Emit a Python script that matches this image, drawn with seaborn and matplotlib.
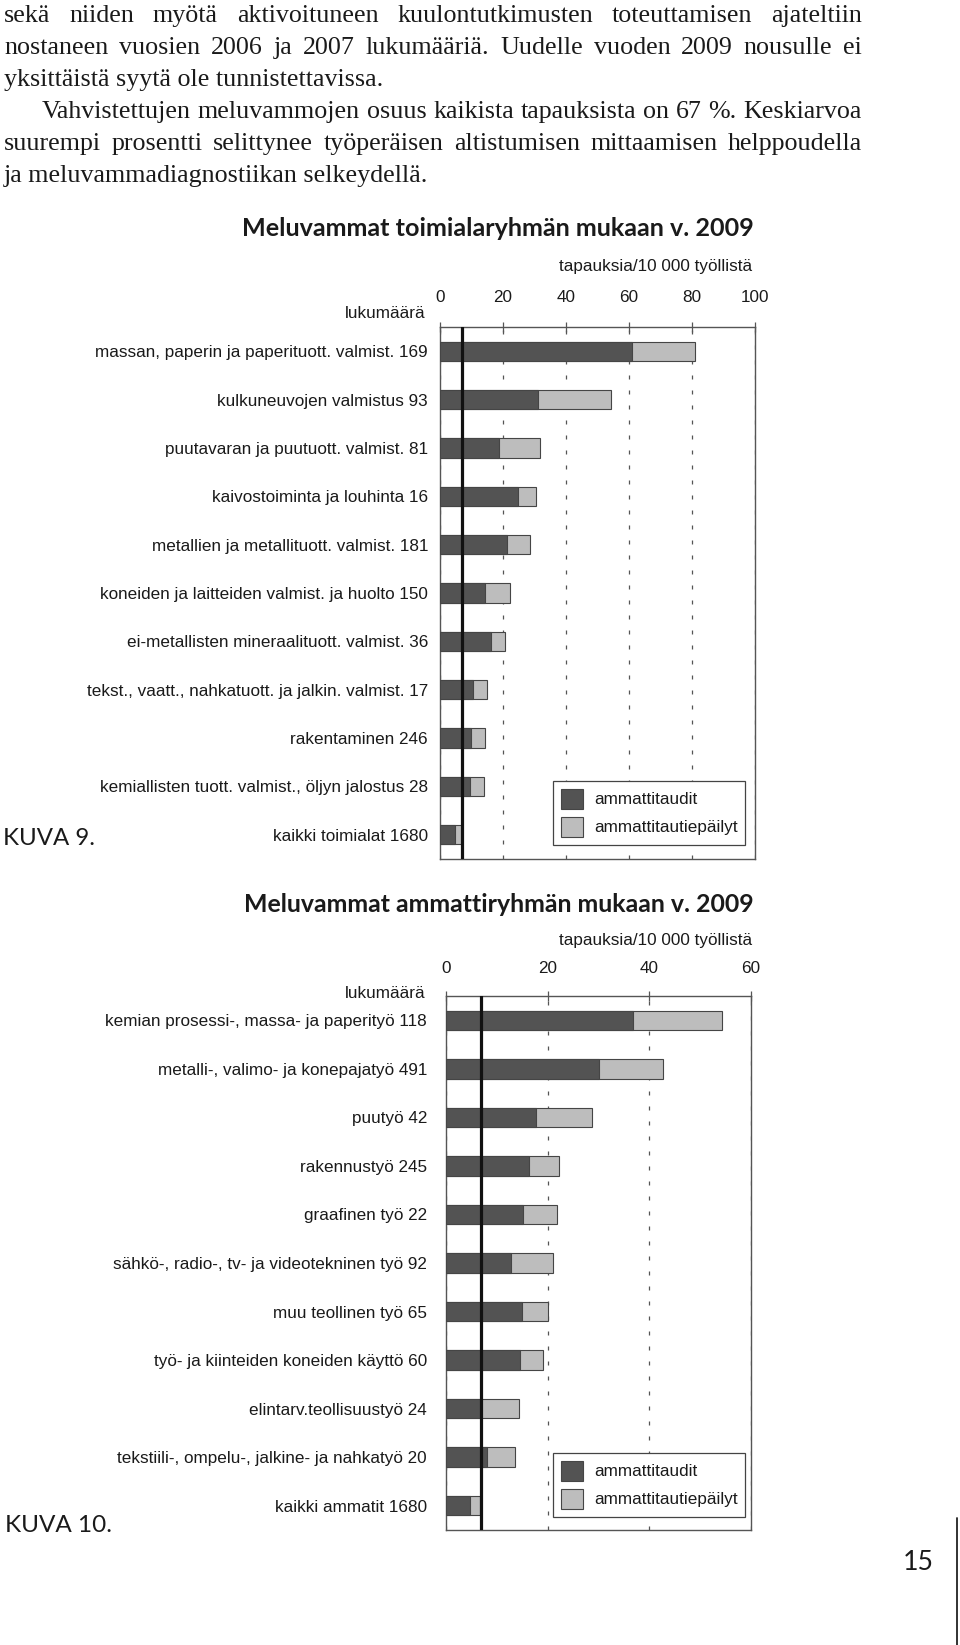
import numpy as np
import pandas as pd
import matplotlib
matplotlib.use("Agg")
import matplotlib.pyplot as plt
import seaborn as sns
from matplotlib.patches import Patch
from matplotlib.lines import Line2D

# ---------------- data ----------------
industry_names = [
    "massan, paperin ja paperituott. valmist.",
    "kulkuneuvojen valmistus",
    "puutavaran ja puutuott. valmist.",
    "kaivostoiminta ja louhinta",
    "metallien ja metallituott. valmist.",
    "koneiden ja laitteiden valmist. ja huolto",
    "ei-metallisten mineraalituott. valmist.",
    "tekst., vaatt., nahkatuott. ja jalkin. valmist.",
    "rakentaminen",
    "kemiallisten tuott. valmist., öljyn jalostus",
    "kaikki toimialat",
]
industry_counts = [169, 93, 81, 16, 181, 150, 36, 17, 246, 28, 1680]
industry_confirmed = [60.8, 31.0, 18.8, 24.7, 21.4, 14.2, 16.2, 10.6, 9.8, 9.6, 4.8]
industry_suspected = [20.2, 23.4, 12.9, 5.7, 7.2, 8.0, 4.5, 4.4, 4.5, 4.5, 2.1]
industry_ticks = [0, 20, 40, 60, 80, 100]
industry_average = 7.0

occupation_names = [
    "kemian prosessi-, massa- ja paperityö",
    "metalli-, valimo- ja konepajatyö",
    "puutyö",
    "rakennustyö",
    "graafinen työ",
    "sähkö-, radio-, tv- ja videotekninen työ",
    "muu teollinen työ",
    "työ- ja kiinteiden koneiden käyttö",
    "elintarv.teollisuustyö",
    "tekstiili-, ompelu-, jalkine- ja nahkatyö",
    "kaikki ammatit",
]
occupation_counts = [118, 491, 42, 245, 22, 92, 65, 60, 24, 20, 1680]
occupation_confirmed = [36.7, 30.1, 17.7, 16.4, 15.1, 12.7, 14.9, 14.6, 6.8, 8.0, 4.7]
occupation_suspected = [17.6, 12.5, 11.0, 5.8, 6.8, 8.4, 5.1, 4.4, 7.6, 5.5, 2.0]
occupation_ticks = [0, 20, 40, 60]
occupation_average = 6.9

series_names = ["ammattitaudit", "ammattitautiepäilyt"]
title_industry = "Meluvammat toimialaryhmän mukaan v. 2009"
title_occupation = "Meluvammat ammattiryhmän mukaan v. 2009"
unit_label = "tapauksia/10 000 työllistä"
count_label = "lukumäärä"

body_lines = [
    ("sekä niiden myötä aktivoituneen kuulontutkimusten toteuttamisen ajateltiin", True, 0),
    ("nostaneen vuosien 2006 ja 2007 lukumääriä. Uudelle vuoden 2009 nousulle ei", True, 0),
    ("yksittäistä syytä ole tunnistettavissa.", False, 0),
    ("Vahvistettujen meluvammojen osuus kaikista tapauksista on 67 %. Keskiarvoa", True, 38),
    ("suurempi prosentti selittynee työperäisen altistumisen mittaamisen helppoudella", True, 0),
    ("ja meluvammadiagnostiikan selkeydellä.", False, 0),
]

# ---------------- style ----------------
W, H = 960, 1645
DARK = "#535353"
LIGHT = "#bdbdbd"
EDGE = "#454545"
SPINE = "#555555"
TEXT = "#1a1a1a"
FS = 12.3

sns.set_style("white")
plt.rcParams["font.family"] = ["Liberation Sans", "DejaVu Sans"]

fig = plt.figure(figsize=(W / 100, H / 100), dpi=100)
fig.patch.set_facecolor("white")
renderer = fig.canvas.get_renderer()


def fx(x):
    return x / W


def fy(y):
    return 1 - y / H


def text_width(s, **kw):
    t = fig.text(0, 0, s, **kw)
    w = t.get_window_extent(renderer).width
    t.remove()
    return w


def fitted(s, x_left, x_right, yc, font, ha="left"):
    w = text_width(s, fontsize=15, **font)
    fs = 15 * (x_right - x_left) / w
    x = x_left if ha == "left" else x_right
    fig.text(fx(x), fy(yc), s, fontsize=fs, ha=ha, va="center", **font)


# ---------------- body text ----------------
serif = dict(family=["Liberation Serif", "DejaVu Serif"], color=TEXT)
base = 20
fit_a = 858 / text_width(body_lines[4][0], fontsize=base, **serif)
fit_b = 425 / text_width(body_lines[5][0], fontsize=base, **serif)
body_fs = base * min(fit_a, fit_b)
left, right = 4, 862
baselines = [22, 54, 86, 118, 150, 182]
for (line, justify, indent), yb in zip(body_lines, baselines):
    x0 = left + indent
    if not justify:
        fig.text(fx(x0), fy(yb), line, fontsize=body_fs, va="baseline", ha="left", **serif)
        continue
    words = line.split(" ")
    widths = [text_width(w, fontsize=body_fs, **serif) for w in words]
    gap = (right - x0 - sum(widths)) / (len(words) - 1)
    x = x0
    for w, wd in zip(words, widths):
        fig.text(fx(x), fy(yb), w, fontsize=body_fs, va="baseline", ha="left", **serif)
        x += wd + gap

# ---------------- titles etc ----------------
title_font = dict(family=["Lato", "Open Sans", "DejaVu Sans"], weight="bold", color=TEXT)
fitted(title_industry, 242, 754, 229, title_font, ha="right")
fitted(title_occupation, 242, 754, 904, title_font, ha="right")

fig.text(fx(752), fy(267), unit_label, fontsize=FS, ha="right", va="center", color=TEXT)
fig.text(fx(752), fy(940), unit_label, fontsize=FS, ha="right", va="center", color=TEXT)
fig.text(fx(426), fy(313), count_label, fontsize=FS, ha="right", va="center", color=TEXT)
fig.text(fx(426), fy(993), count_label, fontsize=FS, ha="right", va="center", color=TEXT)

kuva_font = dict(family=["Lato", "Open Sans", "DejaVu Sans"], color=TEXT)
fitted("KUVA 9.", 3, 95, 838, kuva_font)
fitted("KUVA 10.", 5, 112, 1525, kuva_font)
fitted("15", 903, 934, 1562, kuva_font)
fig.add_artist(Line2D([fx(957), fx(957)], [fy(1518), fy(1645)], transform=fig.transFigure,
                      color="#222222", lw=1.3))


# ---------------- charts ----------------
def draw(rect, names, counts, confirmed, suspected, ticks, average, ypad, xpad, legend_xy):
    ax = fig.add_axes(rect)
    labels = [f"{n} {c}" for n, c in zip(names, counts)]
    df = pd.DataFrame({
        "label": labels,
        "confirmed": confirmed,
        "total": np.add(confirmed, suspected),
    })
    sns.barplot(data=df, x="total", y="label", orient="h", color=LIGHT, saturation=1,
                edgecolor=EDGE, linewidth=0.8, width=0.4, errorbar=None, ax=ax, zorder=2)
    sns.barplot(data=df, x="confirmed", y="label", orient="h", color=DARK, saturation=1,
                edgecolor=EDGE, linewidth=0.8, width=0.4, errorbar=None, ax=ax, zorder=3)
    ax.set_xlim(ticks[0], ticks[-1])
    ax.set_ylim(len(labels) - 0.5, -0.5)
    ax.set_xlabel("")
    ax.set_ylabel("")
    ax.xaxis.tick_top()
    ax.set_xticks(ticks)
    ax.tick_params(axis="x", direction="inout", length=7, width=0.9, color=SPINE,
                   labelsize=FS, labelcolor=TEXT, pad=xpad)
    ax.tick_params(axis="y", length=0, pad=ypad, labelsize=FS, labelcolor=TEXT)
    ax.set_axisbelow(True)
    ax.grid(axis="x", color="#555555", lw=0.9, linestyle=(0, (3.2, 8.8)))
    ax.grid(axis="y", visible=False)
    ax.axvline(average, color="#111111", lw=2.3, zorder=6)
    for s in ax.spines.values():
        s.set_visible(True)
        s.set_color(SPINE)
        s.set_linewidth(1.0)
    handles = [Patch(facecolor=DARK, edgecolor=EDGE, lw=0.8, label=series_names[0]),
               Patch(facecolor=LIGHT, edgecolor=EDGE, lw=0.8, label=series_names[1])]
    leg = ax.legend(handles=handles, loc="upper left",
                    bbox_to_anchor=(fx(legend_xy[0]), fy(legend_xy[1])),
                    bbox_transform=fig.transFigure, fontsize=FS, frameon=True,
                    fancybox=False, edgecolor="#444444", framealpha=1,
                    handlelength=1.3, handleheight=1.45, handletextpad=0.65,
                    labelspacing=0.45, borderpad=0.45, borderaxespad=0)
    leg.get_frame().set_linewidth(0.9)
    for t in leg.get_texts():
        t.set_color(TEXT)
    return ax


draw([fx(440), fy(859), (755 - 440) / W, (859 - 327) / H],
     industry_names, industry_counts, industry_confirmed, industry_suspected,
     industry_ticks, industry_average, ypad=8.6, xpad=12, legend_xy=(553, 781))

draw([fx(446), fy(1530), (751 - 446) / W, (1530 - 996) / H],
     occupation_names, occupation_counts, occupation_confirmed, occupation_suspected,
     occupation_ticks, occupation_average, ypad=13.7, xpad=10.6, legend_xy=(553, 1453))

fig.savefig("out.png", dpi=100, facecolor="white")
